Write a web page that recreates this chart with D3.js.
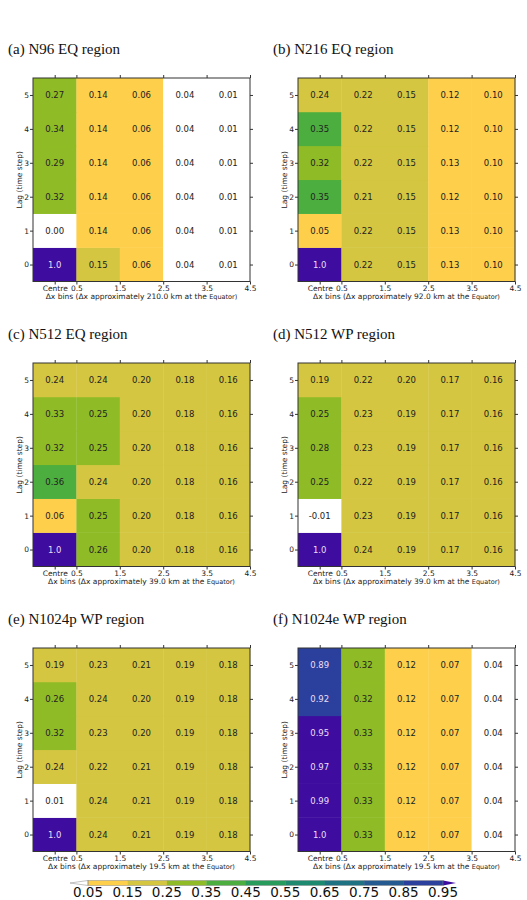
<!DOCTYPE html>
<html>
<head>
<meta charset="utf-8">
<script src="https://cdn.jsdelivr.net/npm/d3@7"></script>
<style>
  body { margin: 0; background: white; }
</style>
</head>
<body>
<script>
// lag correlation tables, row index = lag (0..5), column = dx bin (0..4)
const n96eq = [
  [1.0, 0.15, 0.06, 0.04, 0.01],
  [0.00, 0.14, 0.06, 0.04, 0.01],
  [0.32, 0.14, 0.06, 0.04, 0.01],
  [0.29, 0.14, 0.06, 0.04, 0.01],
  [0.34, 0.14, 0.06, 0.04, 0.01],
  [0.27, 0.14, 0.06, 0.04, 0.01]
]
const n216eq = [
  [1.0, 0.22, 0.15, 0.13, 0.10],
  [0.05, 0.22, 0.15, 0.13, 0.10],
  [0.35, 0.21, 0.15, 0.12, 0.10],
  [0.32, 0.22, 0.15, 0.13, 0.10],
  [0.35, 0.22, 0.15, 0.12, 0.10],
  [0.24, 0.22, 0.15, 0.12, 0.10]
]
const n512eq = [
  [1.0, 0.26, 0.20, 0.18, 0.16],
  [0.06, 0.25, 0.20, 0.18, 0.16],
  [0.36, 0.24, 0.20, 0.18, 0.16],
  [0.32, 0.25, 0.20, 0.18, 0.16],
  [0.33, 0.25, 0.20, 0.18, 0.16],
  [0.24, 0.24, 0.20, 0.18, 0.16]
]
const n512wp = [
  [1.0, 0.24, 0.19, 0.17, 0.16],
  [-0.01, 0.23, 0.19, 0.17, 0.16],
  [0.25, 0.22, 0.19, 0.17, 0.16],
  [0.28, 0.23, 0.19, 0.17, 0.16],
  [0.25, 0.23, 0.19, 0.17, 0.16],
  [0.19, 0.22, 0.20, 0.17, 0.16]
]
const n1024pwp = [
  [1.0, 0.24, 0.21, 0.19, 0.18],
  [0.01, 0.24, 0.21, 0.19, 0.18],
  [0.24, 0.22, 0.21, 0.19, 0.18],
  [0.32, 0.23, 0.20, 0.19, 0.18],
  [0.26, 0.24, 0.20, 0.19, 0.18],
  [0.19, 0.23, 0.21, 0.19, 0.18]
]
const n1024ewp = [
  [1.0, 0.33, 0.12, 0.07, 0.04],
  [0.99, 0.33, 0.12, 0.07, 0.04],
  [0.97, 0.33, 0.12, 0.07, 0.04],
  [0.95, 0.33, 0.12, 0.07, 0.04],
  [0.92, 0.32, 0.12, 0.07, 0.04],
  [0.89, 0.32, 0.12, 0.07, 0.04]
]

const tables = [n96eq, n216eq, n512eq, n512wp, n1024pwp, n1024ewp]
const titles = ['(a) N96 EQ region', '(b) N216 EQ region', '(c) N512 EQ region',
                '(d) N512 WP region', '(e) N1024p WP region', '(f) N1024e WP region']
const spacings = ['210.0', '92.0', '39.0', '39.0', '19.5', '19.5']

const lags = [0, 1, 2, 3, 4, 5]
const bins = [0, 1, 2, 3, 4]
const xTicks = [0, 0.5, 1.5, 2.5, 3.5, 4.5]
const levels = [0.05, 0.15, 0.25, 0.35, 0.45, 0.55, 0.65, 0.75, 0.85, 0.95]
const binColours = ['#ffffff', '#fecf4a', '#d4c640', '#8fbc26', '#4cae3f', '#279b5c',
                    '#1d8a70', '#1f7282', '#245a90', '#2b409c', '#3e0c9f']

const width = 527
const height = 900
const plotW = 217
const plotH = 203.5
const colX = [33, 298]
const rowY = [78, 363, 648]
const sans = 'DejaVu Sans'

let svg = d3.select('body').append('svg')
            .attr('width', width)
            .attr('height', height)

let colour = d3.scaleThreshold()
               .domain(levels)
               .range(binColours)

let xScale = d3.scaleLinear().domain([-0.5, 4.5]).range([0, plotW])
let yScale = d3.scaleLinear().domain([-0.5, 5.5]).range([plotH, 0])

// plain hyphen for negatives, like the original figure
let fmt = v => v === 1 ? '1.0' : d3.format('.2f')(v).replace('\u2212', '-')

tables.forEach((table, i) => {
  const col = i % 2
  const row = Math.floor(i / 2)

  svg.append('text')
     .text(titles[i])
     .attr('x', colX[col] - 25)
     .attr('y', rowY[row] - 24)
     .style('font-family', 'Liberation Serif')
     .style('font-size', 15)
     .style('fill', '#111')

  let panel = svg.append('g')
                 .attr('transform', `translate(${colX[col]}, ${rowY[row]})`)

  let cells = lags.flatMap(l => bins.map(b => ({lag: l, bin: b, v: table[l][b]})))

  panel.selectAll('rect.cell')
       .data(cells)
       .enter()
       .append('rect')
       .attr('class', 'cell')
       .attr('x', d => xScale(d.bin - 0.5))
       .attr('y', d => yScale(d.lag + 0.5))
       .attr('width', xScale(1) - xScale(0) + 0.3)
       .attr('height', yScale(0) - yScale(1) + 0.3)
       .style('fill', d => colour(d.v))

  panel.selectAll('text.val')
       .data(cells)
       .enter()
       .append('text')
       .attr('class', 'val')
       .text(d => fmt(d.v))
       .attr('x', d => xScale(d.bin))
       .attr('y', d => yScale(d.lag))
       .attr('dy', '0.36em')
       .style('text-anchor', 'middle')
       .style('font-family', sans)
       .style('font-size', 8.5)
       .style('fill', d => d.v >= 0.85 ? '#eadff8' : '#222')

  let xAxis = panel.append('g')
                   .attr('transform', `translate(0,${plotH})`)
                   .call(d3.axisBottom(xScale)
                           .tickValues(xTicks)
                           .tickFormat(d => d === 0 ? 'Centre' : d3.format('.1f')(d))
                           .tickSize(3).tickSizeOuter(0).tickPadding(1))
  let topAxis = panel.append('g')
                     .call(d3.axisTop(xScale).tickValues(xTicks).tickFormat('')
                             .tickSize(3).tickSizeOuter(0))
  let yAxis = panel.append('g')
                   .call(d3.axisLeft(yScale)
                           .tickValues(lags)
                           .tickFormat(d3.format('d'))
                           .tickSize(3).tickSizeOuter(0).tickPadding(1))
  let rightAxis = panel.append('g')
                       .attr('transform', `translate(${plotW},0)`)
                       .call(d3.axisRight(yScale).tickValues(lags).tickFormat('')
                               .tickSize(3).tickSizeOuter(0))

  ;[xAxis, topAxis, yAxis, rightAxis].forEach(a => {
    a.select('.domain').remove()
    a.selectAll('line').style('stroke', '#333')
    a.selectAll('text').style('font-family', sans).style('font-size', 7.5).style('fill', '#222')
  })

  panel.append('rect')
       .attr('width', plotW)
       .attr('height', plotH)
       .style('fill', 'none')
       .style('stroke', '#333')
       .style('stroke-width', 1)

  let xLabel = panel.append('text')
                    .attr('x', plotW / 2)
                    .attr('y', plotH + 17)
                    .style('text-anchor', 'middle')
                    .style('font-family', sans)
                    .style('font-size', 7.5)
                    .style('fill', '#222')
  xLabel.append('tspan').text(`\u0394x bins (\u0394x approximately ${spacings[i]} km at the `)
  xLabel.append('tspan').text('Equator)').style('font-size', 6.5)

  panel.append('text')
       .text('Lag (time step)')
       .attr('transform', `translate(-11, ${plotH / 2})rotate(-90)`)
       .style('text-anchor', 'middle')
       .style('font-family', sans)
       .style('font-size', 7.5)
       .style('fill', '#222')
})

// colour bar
const barY = 880.5
const barH = 5
let cScale = d3.scaleLinear().domain([0.05, 0.95]).range([88, 443])

let bar = svg.append('g')
let segs = d3.pairs(levels)

bar.selectAll('rect')
   .data(segs)
   .enter()
   .append('rect')
   .attr('x', d => cScale(d[0]))
   .attr('y', barY)
   .attr('width', d => cScale(d[1]) - cScale(d[0]) + 0.3)
   .attr('height', barH)
   .style('fill', d => colour(d[0]))

bar.append('path')
   .attr('d', `M${cScale(0.05)},${barY} L70,${barY + barH / 2} L${cScale(0.05)},${barY + barH} Z`)
   .style('fill', colour(0))
   .style('stroke', '#999')
   .style('stroke-width', 0.6)

bar.append('path')
   .attr('d', `M${cScale(0.95)},${barY} L456,${barY + barH / 2} L${cScale(0.95)},${barY + barH} Z`)
   .style('fill', colour(1))

bar.append('rect')
   .attr('x', cScale(0.05))
   .attr('y', barY)
   .attr('width', cScale(0.95) - cScale(0.05))
   .attr('height', barH)
   .style('fill', 'none')
   .style('stroke', '#888')
   .style('stroke-width', 0.5)

bar.selectAll('text')
   .data(levels)
   .enter()
   .append('text')
   .text(d => d3.format('.2f')(d))
   .attr('x', d => cScale(d))
   .attr('y', 896.5)
   .style('text-anchor', 'middle')
   .style('font-family', sans)
   .style('font-size', 13.5)
   .style('fill', '#111')
</script>
</body>
</html>
